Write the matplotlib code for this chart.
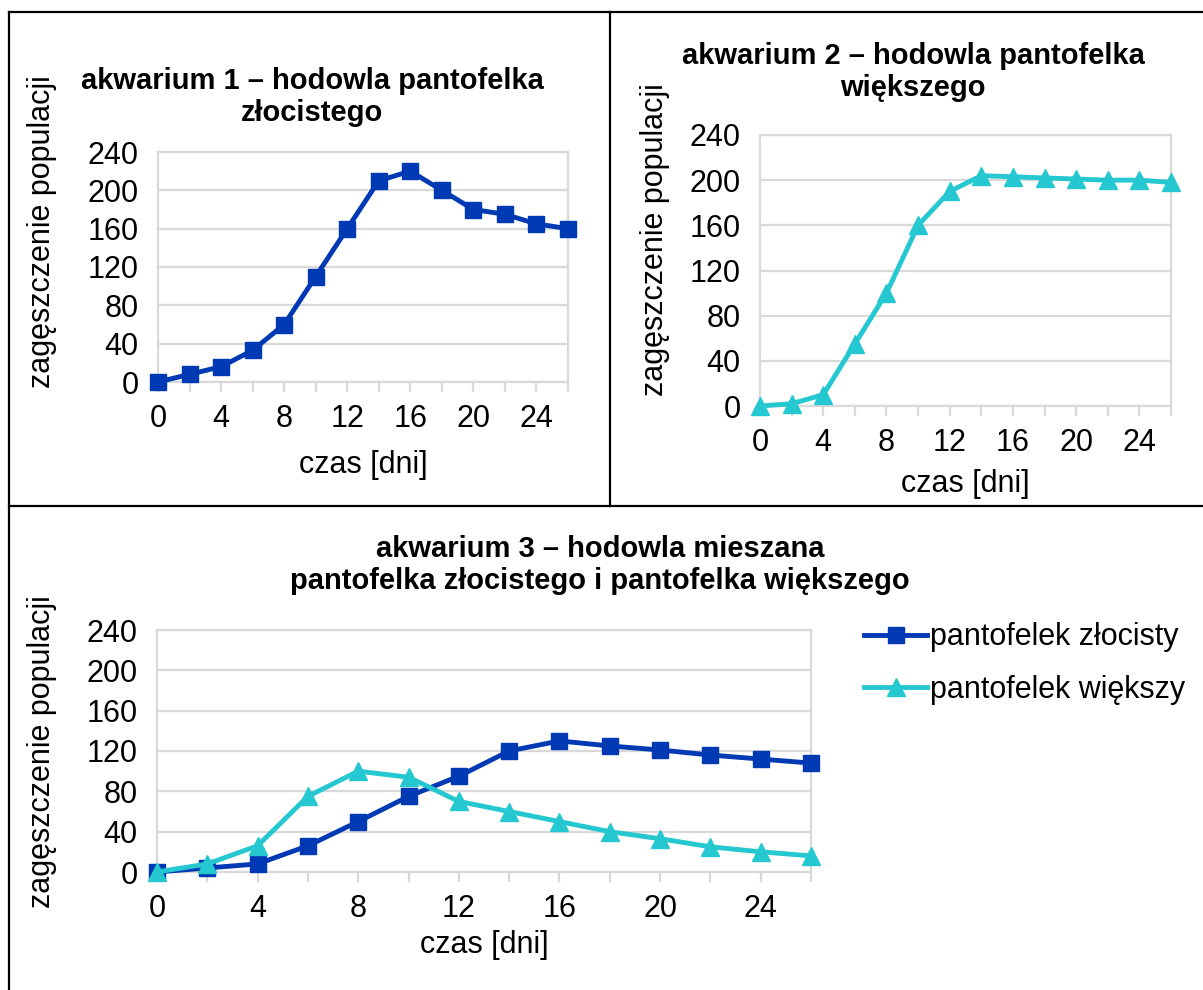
import matplotlib
matplotlib.use("Agg")
import matplotlib.pyplot as plt
from matplotlib.lines import Line2D

plt.rcParams['font.family'] = ['Liberation Sans', 'DejaVu Sans']

days = [0, 2, 4, 6, 8, 10, 12, 14, 16, 18, 20, 22, 24, 26]
aq1_zlocisty = [0, 8, 16, 33, 60, 110, 160, 210, 220, 200, 180, 175, 165, 160]
aq2_wiekszy = [0, 2, 10, 55, 100, 160, 190, 204, 203, 202, 201, 200, 200, 198]
aq3_zlocisty = [0, 4, 8, 26, 50, 75, 95, 120, 130, 125, 121, 116, 112, 108]
aq3_wiekszy = [0, 8, 26, 75, 100, 94, 70, 60, 50, 40, 33, 25, 20, 16]
x_ticks = [0, 4, 8, 12, 16, 20, 24]
y_ticks = [0, 40, 80, 120, 160, 200, 240]

title1 = "akwarium 1 \u2013 hodowla pantofelka\nz\u0142ocistego"
title2 = "akwarium 2 \u2013 hodowla pantofelka\nwi\u0119kszego"
title3 = "akwarium 3 \u2013 hodowla mieszana\npantofelka z\u0142ocistego i pantofelka wi\u0119kszego"
ylab = "zag\u0119szczenie populacji"
xlab = "czas [dni]"
leg_labels = ["pantofelek z\u0142ocisty", "pantofelek wi\u0119kszy"]

BLUE = '#0039B4'
CYAN = '#25C8D0'
GRID = '#D9D9D9'
W, H = 1203, 990
FS = 22
TFS = 21
LW = 3.5
MS_S = 12
MS_T = 13

fig = plt.figure(figsize=(W / 100, H / 100), dpi=100)

def px_ax(l, r, t, b):
    return fig.add_axes([l / W, 1 - b / H, (r - l) / W, (b - t) / H])

def ftext(x, y, s, **kw):
    fig.text(x / W, 1 - y / H, s, **kw)

def style(ax):
    ax.set_xlim(0, 26)
    ax.set_ylim(0, 240)
    ax.set_xticks(x_ticks)
    ax.set_xticks(days, minor=True)
    ax.set_yticks(y_ticks)
    ax.grid(axis='y', color=GRID, lw=1.6, zorder=0)
    ax.set_axisbelow(True)
    for s in ax.spines.values():
        s.set_color(GRID)
        s.set_linewidth(1.6)
    ax.tick_params(axis='x', which='both', length=7, width=1.6, color=GRID,
                   labelsize=FS, pad=9, direction='out')
    ax.tick_params(axis='y', length=0, labelsize=FS, pad=14)
    ax.set_facecolor('white')

# chart 1
ax1 = px_ax(158, 568, 152, 382)
style(ax1)
ax1.plot(days, aq1_zlocisty, color=BLUE, lw=LW, marker='s', ms=MS_S, clip_on=False, zorder=3)
ftext(312, 97, title1, ha='center', va='center', fontsize=TFS, fontweight='bold', linespacing=1.14)
ftext(42, 232, ylab, rotation=90, ha='center', va='center', fontsize=FS)
ftext(363, 465, xlab, ha='center', va='center', fontsize=FS)

# chart 2
ax2 = px_ax(760, 1171, 135, 406)
style(ax2)
ax2.plot(days, aq2_wiekszy, color=CYAN, lw=LW, marker='^', ms=MS_T, clip_on=False, zorder=3)
ftext(913, 72, title2, ha='center', va='center', fontsize=TFS, fontweight='bold', linespacing=1.14)
ftext(655, 240, ylab, rotation=90, ha='center', va='center', fontsize=FS)
ftext(965, 484, xlab, ha='center', va='center', fontsize=FS)

# chart 3
ax3 = px_ax(157, 811, 630, 872)
style(ax3)
ax3.plot(days, aq3_zlocisty, color=BLUE, lw=LW, marker='s', ms=MS_S, clip_on=False, zorder=3)
ax3.plot(days, aq3_wiekszy, color=CYAN, lw=LW, marker='^', ms=MS_T, clip_on=False, zorder=4)
ftext(600, 565, title3, ha='center', va='center', fontsize=TFS, fontweight='bold', linespacing=1.14)
ftext(42, 752, ylab, rotation=90, ha='center', va='center', fontsize=FS)
ftext(484, 945, xlab, ha='center', va='center', fontsize=FS)

handles = [Line2D([], [], color=BLUE, lw=LW, marker='s', ms=MS_S),
           Line2D([], [], color=CYAN, lw=LW, marker='^', ms=MS_T)]
fig.legend(handles, leg_labels, loc='upper left', bbox_to_anchor=(849 / W, 1 - 607 / H),
           frameon=False, fontsize=FS, handlelength=2.05, handletextpad=0.1,
           labelspacing=0.75, borderpad=0)

# table borders
bk = dict(color='black', lw=1.6, transform=fig.transFigure, clip_on=False)
fig.add_artist(Line2D([9 / W, 1], [1 - 12 / H, 1 - 12 / H], **bk))
fig.add_artist(Line2D([9 / W, 9 / W], [1 - 12 / H, 0], **bk))
fig.add_artist(Line2D([610 / W, 610 / W], [1 - 12 / H, 1 - 506 / H], **bk))
fig.add_artist(Line2D([9 / W, 1], [1 - 506 / H, 1 - 506 / H], **bk))

fig.savefig('out.png', dpi=100)
